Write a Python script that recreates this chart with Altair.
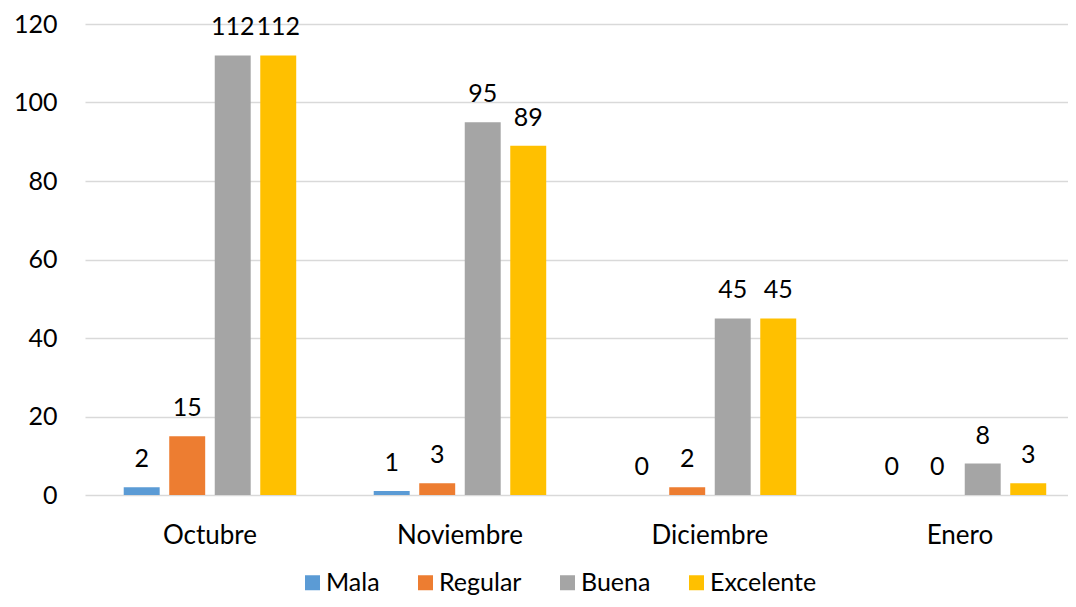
import altair as alt
import pandas as pd

months = ["Octubre", "Noviembre", "Diciembre", "Enero"]
categories = ["Mala", "Regular", "Buena", "Excelente"]
mala = [2, 1, 0, 0]
regular = [15, 3, 2, 0]
buena = [112, 95, 45, 8]
excelente = [112, 89, 45, 3]
colors = ["#5B9BD5", "#ED7D31", "#A5A5A5", "#FFC000"]
y_ticks = [0, 20, 40, 60, 80, 100, 120]

rows = []
for cat, vals in zip(categories, [mala, regular, buena, excelente]):
    for m, v in zip(months, vals):
        rows.append({"Mes": m, "Calificacion": cat, "Valor": v})
df = pd.DataFrame(rows)

FONT = "Lato"

x = alt.X(
    "Mes:N",
    sort=months,
    scale=alt.Scale(paddingInner=0.31, paddingOuter=0.121, align=0.64),
    axis=alt.Axis(
        title=None, labelAngle=0, ticks=False, domain=False, grid=False,
        labelPadding=27, labelFontSize=26, labelFont=FONT, labelColor="black",
    ),
)
xoff = alt.XOffset(
    "Calificacion:N", sort=categories,
    scale=alt.Scale(paddingInner=0.21, paddingOuter=0),
)
y = alt.Y(
    "Valor:Q",
    scale=alt.Scale(domain=[0, 120], nice=False),
    axis=alt.Axis(
        title=None, values=y_ticks, ticks=False, domain=False,
        labelPadding=28, labelFontSize=25, labelFont=FONT, labelColor="black",
        gridColor="#D9D9D9", gridWidth=1.5,
    ),
)

bars = alt.Chart(df).mark_bar().encode(
    x=x,
    xOffset=xoff,
    y=y,
    color=alt.Color(
        "Calificacion:N",
        sort=categories,
        scale=alt.Scale(domain=categories, range=colors),
        legend=alt.Legend(
            title=None, orient="none", direction="horizontal",
            legendX=215, legendY=546,
            symbolType="square", symbolSize=225, symbolStrokeWidth=0,
            labelFontSize=25, labelFont=FONT, labelColor="black",
            labelOffset=1, columnPadding=33, padding=0,
        ),
    ),
)

labels = alt.Chart(df).mark_text(
    dy=-20, baseline="alphabetic", fontSize=25, font=FONT, color="black"
).encode(
    x=alt.X("Mes:N", sort=months),
    xOffset=alt.XOffset("Calificacion:N", sort=categories),
    y=alt.Y("Valor:Q"),
    text=alt.Text("Valor:Q"),
)

chart = alt.layer(bars, labels).properties(
    width=983,
    height=471,
    autosize=alt.AutoSizeParams(type="none"),
    padding={"left": 77, "top": 16, "right": 0, "bottom": 104},
).configure_view(stroke=None)

chart.save("out.html", embed_options={"renderer": "svg", "actions": False})
